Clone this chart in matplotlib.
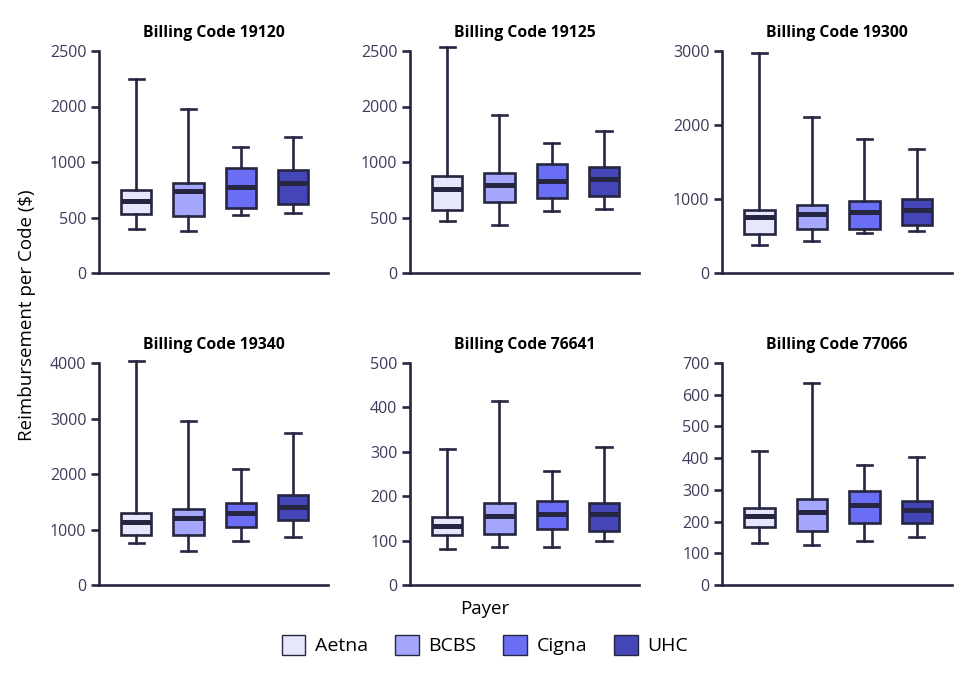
import matplotlib
matplotlib.use("Agg")
import matplotlib.pyplot as plt
from matplotlib.patches import Patch

plt.rcParams['font.family'] = ['Open Sans', 'Noto Sans', 'DejaVu Sans']

payers = ["Aetna", "BCBS", "Cigna", "UHC"]
colors = ["#e6e7fb", "#a5a7fc", "#6a6ef5", "#4446b8"]
edge = "#262642"
tick_color = "#3b3b5c"

codes = ["Billing Code 19120", "Billing Code 19125", "Billing Code 19300",
         "Billing Code 19340", "Billing Code 76641", "Billing Code 77066"]

# per code: [low whisker, Q1, median, Q3, high whisker] for Aetna, BCBS, Cigna, UHC
code_19120 = [[393, 535, 649, 745, 1745], [378, 511, 739, 814, 1477],
              [520, 583, 775, 943, 1135], [541, 622, 811, 925, 1225]]
code_19125 = [[468, 568, 757, 874, 2033], [432, 640, 793, 904, 1420],
              [559, 673, 829, 979, 1168], [574, 694, 847, 955, 1276]]
code_19300 = [[374, 528, 758, 848, 2977], [433, 595, 803, 916, 2106],
              [541, 595, 830, 970, 1813], [568, 650, 857, 997, 1673]]
code_19340 = [[762, 900, 1139, 1295, 4030], [618, 900, 1211, 1367, 2957],
              [798, 1043, 1289, 1475, 2093], [864, 1163, 1397, 1625, 2735]]
code_76641 = [[81, 112, 133, 153, 307], [85, 114, 156, 184, 415],
              [85, 127, 161, 189, 256], [100, 122, 161, 184, 310]]
code_77066 = [[133, 184, 218, 244, 422], [127, 171, 231, 271, 637],
              [140, 197, 251, 295, 378], [151, 197, 238, 264, 404]]
all_stats = [code_19120, code_19125, code_19300, code_19340, code_76641, code_77066]

tick_vals = [[0, 500, 1000, 1500, 2000], [0, 500, 1000, 1500, 2000],
             [0, 1000, 2000, 3000], [0, 1000, 2000, 3000, 4000],
             [0, 100, 200, 300, 400, 500], [0, 100, 200, 300, 400, 500, 600, 700]]
tick_labels = [["0", "500", "1000", "2000", "2500"], ["0", "500", "1000", "2000", "2500"],
               ["0", "1000", "2000", "3000"], ["0", "1000", "2000", "3000", "4000"],
               ["0", "100", "200", "300", "400", "500"],
               ["0", "100", "200", "300", "400", "500", "600", "700"]]

fig = plt.figure(figsize=(9.68, 6.8), dpi=100)
W, H = 968, 680
lefts = [99, 410, 722]
widths = [229, 229, 230]
tops = [51, 363]
height = 222
lw = 1.9

for i in range(6):
    r, c = divmod(i, 3)
    ax = fig.add_axes([lefts[c] / W, 1 - (tops[r] + height) / H, widths[c] / W, height / H])
    stats = []
    for p, s in zip(payers, all_stats[i]):
        stats.append(dict(whislo=s[0], q1=s[1], med=s[2], q3=s[3], whishi=s[4], label=p, fliers=[]))
    bp = ax.bxp(stats, positions=[1, 2, 3, 4], widths=0.58, patch_artist=True, showfliers=False,
                boxprops=dict(edgecolor=edge, linewidth=lw),
                medianprops=dict(color=edge, linewidth=3.6, solid_capstyle='butt'),
                whiskerprops=dict(color=edge, linewidth=lw),
                capprops=dict(color=edge, linewidth=lw), capwidths=0.29)
    for patch, col in zip(bp['boxes'], colors):
        patch.set_facecolor(col)
    ax.set_xlim(0.29, 4.67)
    top = tick_vals[i][-1]
    ax.set_ylim(0, top)
    ax.set_yticks(tick_vals[i])
    ax.set_yticklabels(tick_labels[i])
    ax.set_xticks([])
    for s in ["top", "right"]:
        ax.spines[s].set_visible(False)
    for s in ["left", "bottom"]:
        ax.spines[s].set_color(edge)
        ax.spines[s].set_linewidth(lw)
    ax.tick_params(axis='y', colors=edge, labelcolor=tick_color, labelsize=11.5,
                   length=6, width=lw, pad=3)
    ax.set_title(codes[i], fontsize=11.3, fontweight='bold', color='black', pad=10)
    for art in ax.get_children():
        try:
            art.set_clip_on(False)
        except Exception:
            pass

fig.text(27 / W, 1 - 315 / H, "Reimbursement per Code ($)", rotation=90, ha='center', va='center',
         fontsize=13.5, color='black')
fig.text(485 / W, 1 - 609 / H, "Payer", ha='center', va='center', fontsize=13.5, color='black')

handles = [Patch(facecolor=col, edgecolor=edge, linewidth=1.0, label=p) for p, col in zip(payers, colors)]
fig.legend(handles=handles, loc='center', bbox_to_anchor=(485 / W, 1 - 645 / H), ncol=4,
           frameon=False, fontsize=14, handlelength=1.2, handleheight=1.2,
           handletextpad=0.5, columnspacing=1.4)

fig.savefig("out.png", dpi=100)
